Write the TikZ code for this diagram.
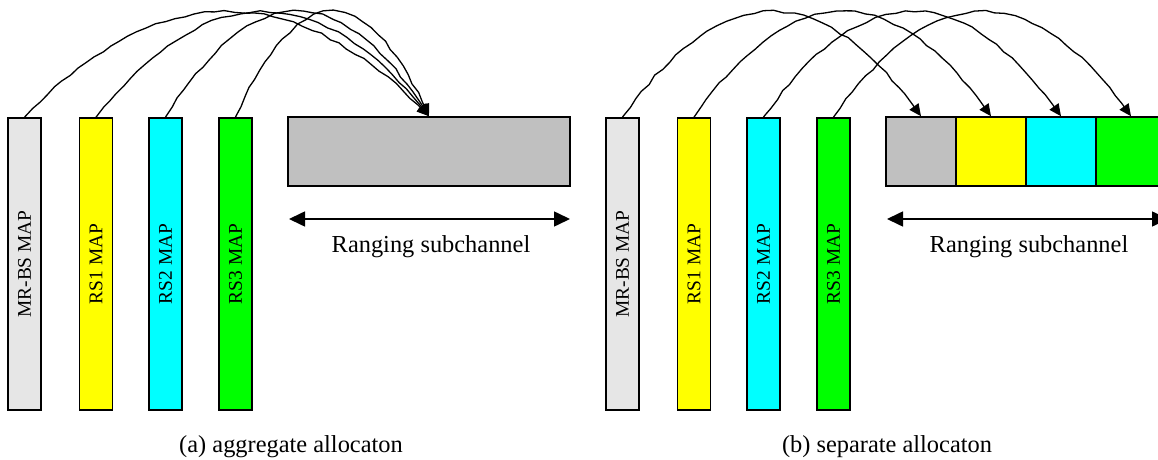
\documentclass[tikz,border=0pt]{standalone}
\usepackage{fontspec}
\setmainfont{Liberation Serif}
\usetikzlibrary{arrows.meta,decorations.pathmorphing}
\definecolor{mrgray}{RGB}{230,230,230}
\definecolor{rgray}{RGB}{192,192,192}
\definecolor{ylw}{RGB}{255,255,0}
\definecolor{cyn}{RGB}{0,255,255}
\definecolor{grn}{RGB}{0,255,0}
\begin{document}
\begin{tikzpicture}[x=0.5pt,y=-0.5pt,
  mapbar/.style={draw=black, line width=0.8pt, rotate=90, minimum width=146pt, minimum height=16.5pt, inner sep=0pt, font=\fontsize{9.7}{11}\selectfont},
  chan/.style={draw=black, line width=0.8pt, minimum height=34.5pt, inner sep=0pt},
  link/.style={line width=0.65pt, -{Triangle[length=6pt,width=5.5pt]}, decorate, decoration={random steps, segment length=5pt, amplitude=0.55pt, pre length=1pt, post length=8pt}},
  span/.style={line width=0.8pt, {Triangle[length=8pt,width=7.5pt]}-{Triangle[length=8pt,width=7.5pt]}},
  lbl/.style={font=\fontsize{12.2}{14}\selectfont, anchor=base, inner sep=0pt}]
\clip (0,0) rectangle (1158,460);
\pgfmathsetseed{7}
% ---------- (a) aggregate allocation ----------
\node[mapbar, fill=mrgray] (a0) at (24.5,264) {MR-BS MAP};
\node[mapbar, fill=ylw] (a1) at (96,264) {RS1 MAP};
\node[mapbar, fill=cyn] (a2) at (165.5,264) {RS2 MAP};
\node[mapbar, fill=grn] (a3) at (235.5,264) {RS3 MAP};
\node[chan, fill=rgray, minimum width=141pt] (ach) at (429,151.5) {};
\draw[link] (a0.east) .. controls +(135,-140) and +(-135,-140) .. (ach.north);
\draw[link] (a1.east) .. controls +(111,-140) and +(-111,-140) .. (ach.north);
\draw[link] (a2.east) .. controls +(88,-140) and +(-88,-140) .. (ach.north);
\draw[link] (a3.east) .. controls +(64.5,-140) and +(-64.5,-140) .. (ach.north);
\coordinate (asa) at (289,219);
\coordinate (asb) at (570,219);
\draw[span] (asa) -- (asb);
\node[lbl] (atxt) at (431,253) {Ranging subchannel};
\node[lbl] (acap) at (291,452) {(a) aggregate allocaton};
% ---------- (b) separate allocation ----------
\node[mapbar, fill=mrgray] (b0) at (622.5,264) {MR-BS MAP};
\node[mapbar, fill=ylw] (b1) at (694,264) {RS1 MAP};
\node[mapbar, fill=cyn] (b2) at (763.5,264) {RS2 MAP};
\node[mapbar, fill=grn] (b3) at (833.5,264) {RS3 MAP};
\node[chan, fill=rgray, minimum width=35pt] (c0) at (921,151.5) {};
\node[chan, fill=ylw, minimum width=35pt] (c1) at (991,151.5) {};
\node[chan, fill=cyn, minimum width=35pt] (c2) at (1061,151.5) {};
\node[chan, fill=grn, minimum width=35pt] (c3) at (1131,151.5) {};
\draw[link] (b0.east) .. controls +(100,-140) and +(-100,-140) .. (c0.north);
\draw[link] (b1.east) .. controls +(99,-140) and +(-99,-140) .. (c1.north);
\draw[link] (b2.east) .. controls +(99,-140) and +(-99,-140) .. (c2.north);
\draw[link] (b3.east) .. controls +(99,-140) and +(-99,-140) .. (c3.north);
\coordinate (bsa) at (887,219);
\coordinate (bsb) at (1168,219);
\draw[span] (bsa) -- (bsb);
\node[lbl] (btxt) at (1029,253) {Ranging subchannel};
\node[lbl] (bcap) at (887,452) {(b) separate allocaton};
\end{tikzpicture}
\end{document}
